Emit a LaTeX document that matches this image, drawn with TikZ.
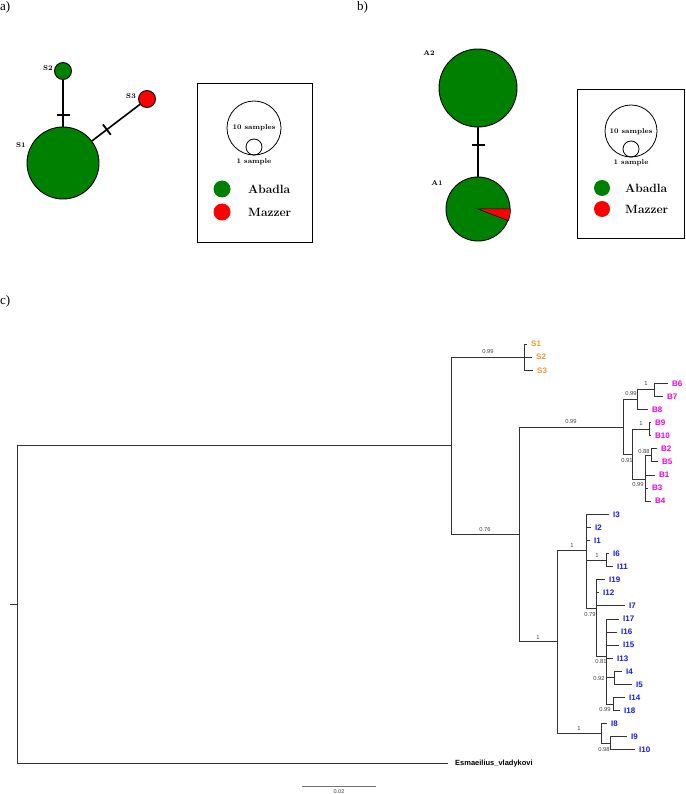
\documentclass[tikz,border=0pt]{standalone}
\usepackage{fontspec}
\newfontfamily\arialf{Liberation Sans}
\newfontfamily\timesf{Liberation Serif}
\definecolor{hapgreen}{RGB}{0,128,0}
\definecolor{hapred}{RGB}{255,0,0}
\definecolor{sorange}{RGB}{247,148,40}
\definecolor{bmag}{RGB}{238,0,230}
\definecolor{iblue}{RGB}{25,25,240}
\def\Y#1{344+13.09*#1}
\begin{document}
\begin{tikzpicture}[x=1pt,y=-1pt,
  panel/.style={font=\timesf\fontsize{13}{13}\selectfont, inner sep=0, anchor=north west},
  hap/.style={circle, draw=black, line width=0.9pt, inner sep=0, fill=hapgreen},
  edge/.style={draw=black, line width=1.6pt},
  tick/.style={sloped, fill=black, draw=none, minimum width=1.8pt, minimum height=13pt, inner sep=0},
  hlab/.style={font=\bfseries\fontsize{7}{7}\selectfont, inner sep=0},
  legbox/.style={draw=black, line width=1pt, inner sep=0},
  legc/.style={circle, draw=black, line width=0.8pt, inner sep=0},
  legdot/.style={circle, inner sep=0, minimum size=17pt},
  legtxt/.style={font=\bfseries\fontsize{12}{12}\selectfont, inner sep=0, anchor=west},
  smalltxt/.style={font=\bfseries\fontsize{7}{7}\selectfont, inner sep=0},
  tree/.style={draw=black!80, line width=0.75pt},
  tipbase/.style={anchor=west, inner sep=0, xshift=4pt, text height=5.7pt, text depth=0pt,
     font=\arialf\bfseries\fontsize{8}{8}\selectfont},
  tipS/.style={tipbase, text=sorange},
  tipB/.style={tipbase, text=bmag},
  tipI/.style={tipbase, text=iblue},
  supp/.style={font=\arialf\fontsize{5.8}{6}\selectfont, text=black!75, inner sep=0}
]
\useasboundingbox (0,0) rectangle (685,794);

% panel labels
\node[panel] (pa) at (0,1) {a)};
\node[panel] (pb) at (357,1) {b)};
\node[panel] (pc) at (0,295) {c)};

% ---------- panel a ----------
\node[hap, minimum size=72pt] (S1) at (63,163) {};
\node[hap, minimum size=17pt] (S2) at (63,71) {};
\node[hap, fill=hapred, minimum size=17pt] (S3) at (147,99) {};
\draw[edge] (S1) -- node[tick, pos=0.25] (tk1) {} (S2);
\draw[edge] (S1) -- node[tick, pos=0.31] (tk2) {} (S3);
\node[hlab] (lhS1) at (21,145) {S1};
\node[hlab] (lhS2) at (48,68) {S2};
\node[hlab] (lhS3) at (131,96) {S3};

\node[legbox, minimum width=115pt, minimum height=158pt] (boxa) at (254.5,163) {};
\node[legc, minimum size=54pt] (bigA) at (254,128) {};
\node[legc, minimum size=16pt] (smA) at (254,147) {};
\node[smalltxt] (tenA) at (254,128) {10 samples};
\node[smalltxt] (oneA) at (254,162) {1 sample};
\node[legdot, fill=hapgreen] (gdA) at (222,189) {};
\node[legdot, fill=hapred] (rdA) at (222,212) {};
\node[legtxt] (abA) at (248,189) {Abadla};
\node[legtxt] (mzA) at (248,212) {Mazzer};

% ---------- panel b ----------
\node[hap, minimum size=78pt] (A2) at (478,88) {};
\node[hap, minimum size=64pt] (A1) at (478,209) {};
\filldraw[fill=hapred, draw=black, line width=0.5pt] (A1.center) -- (A1.0) -- (A1.-5) -- (A1.-10) -- (A1.-15) -- (A1.-21) -- cycle;
\draw[edge] (A2) -- node[tick, pos=0.36] (tk3) {} (A1);
\node[hlab] (lhA2) at (429,53) {A2};
\node[hlab] (lhA1) at (437,183) {A1};

\node[legbox, minimum width=107pt, minimum height=148pt] (boxb) at (630.5,164) {};
\node[legc, minimum size=52pt] (bigB) at (631,131) {};
\node[legc, minimum size=16pt] (smB) at (631,149) {};
\node[smalltxt] (tenB) at (631,132) {10 samples};
\node[smalltxt] (oneB) at (631,163) {1 sample};
\node[legdot, fill=hapgreen, minimum size=16pt] (gdB) at (602,188) {};
\node[legdot, fill=hapred, minimum size=16pt] (rdB) at (602,209) {};
\node[legtxt] (abB) at (625,188) {Abadla};
\node[legtxt] (mzB) at (625,209) {Mazzer};

% ---------- panel c : tree ----------
\coordinate (Rt) at (10,{\Y{19.89}});
\coordinate (R) at (17,{\Y{19.89}});
\coordinate (N451) at (451,{\Y{7.77}});
\coordinate (NS) at (524,{\Y{1}});
\coordinate (N519) at (519,{\Y{14.547}});
\coordinate (NB) at (623,{\Y{6.34}});
\coordinate (NB1) at (637.5,{\Y{4.25}});
\coordinate (NB67) at (654,{\Y{3.5}});
\coordinate (NB2) at (632.5,{\Y{8.4375}});
\coordinate (NB910) at (649,{\Y{6.5}});
\coordinate (NB3) at (645,{\Y{10.375}});
\coordinate (NB25) at (651,{\Y{8.5}});
\coordinate (NI) at (557,{\Y{22.75}});
\coordinate (NI1) at (586,{\Y{15.74}});
\coordinate (NI611) at (606.5,{\Y{16.5}});
\coordinate (NI2) at (596,{\Y{20.21}});
\coordinate (NI3) at (606,{\Y{23.83}});
\coordinate (NI45) at (614.5,{\Y{25.5}});
\coordinate (NI1418) at (613,{\Y{27.5}});
\coordinate (NI8) at (601,{\Y{29.75}});
\coordinate (NI910) at (610,{\Y{30.5}});

\foreach \n/\x/\i/\s in {S1/527/0/tipS, S2/532/1/tipS, S3/533/2/tipS,
  B6/668/3/tipB, B7/663/4/tipB, B8/648/5/tipB, B9/651/6/tipB, B10/651/7/tipB,
  B2/657/8/tipB, B5/658/9/tipB, B1/655/10/tipB, B3/648/11/tipB, B4/651/12/tipB,
  I3/609/13/tipI, I2/591/14/tipI, I1/590/15/tipI, I6/609/16/tipI, I11/613/17/tipI,
  I19/605/18/tipI, I12/599/19/tipI, I7/625/20/tipI, I17/619/21/tipI, I16/617/22/tipI,
  I15/619/23/tipI, I13/613/24/tipI, I4/622/25/tipI, I5/632/26/tipI, I14/625/27/tipI,
  I18/620/28/tipI, I8/607/29/tipI, I9/627/30/tipI, I10/635/31/tipI}{
  \coordinate (t\n) at (\x,{\Y{\i}});
  \node[\s] (l\n) at (t\n) {\n};
}
\coordinate (tEsm) at (448,{\Y{32}});
\node[tipbase, xshift=3pt, font=\arialf\bfseries\fontsize{7.5}{7.5}\selectfont] (lEsm) at (tEsm) {Esmaeilius\_vladykovi};

\draw[tree] (Rt) -- (R);
\foreach \p/\c in {R/N451, R/tEsm, N451/NS, N451/N519, NS/tS1, NS/tS2, NS/tS3,
  N519/NB, N519/NI, NB/NB1, NB/NB2, NB1/NB67, NB1/tB8, NB67/tB6, NB67/tB7,
  NB2/NB910, NB2/NB3, NB910/tB9, NB910/tB10, NB3/NB25, NB3/tB1, NB3/tB3, NB3/tB4,
  NB25/tB2, NB25/tB5, NI/NI1, NI/NI8, NI1/tI3, NI1/tI2, NI1/tI1, NI1/NI611, NI1/NI2,
  NI611/tI6, NI611/tI11, NI2/tI19, NI2/tI12, NI2/tI7, NI2/NI3,
  NI3/tI17, NI3/tI16, NI3/tI15, NI3/tI13, NI3/NI45, NI3/NI1418,
  NI45/tI4, NI45/tI5, NI1418/tI14, NI1418/tI18, NI8/tI8, NI8/NI910,
  NI910/tI9, NI910/tI10}{
  \draw[tree] (\p) |- (\c);
}

% support values
\node[supp] (s1) at (488,352) {0.99};
\node[supp] (s2) at (571,422) {0.99};
\node[supp] (s3) at (485,529) {0.76};
\node[supp] (s4) at (538,637) {1};
\node[supp] (s5) at (572,545) {1};
\node[supp] (s6) at (597,555) {1};
\node[supp] (s7) at (590,614) {0.79};
\node[supp] (s8) at (601,661) {0.81};
\node[supp] (s9) at (599,678) {0.92};
\node[supp] (s10) at (605,709) {0.99};
\node[supp] (s11) at (579,728) {1};
\node[supp] (s12) at (604,749) {0.98};
\node[supp] (s13) at (631,394) {0.99};
\node[supp] (s14) at (646,384) {1};
\node[supp] (s15) at (627,460) {0.91};
\node[supp] (s16) at (641,424) {1};
\node[supp] (s17) at (644,451) {0.88};
\node[supp] (s18) at (638,484) {0.99};

% scale bar
\coordinate (sb1) at (302,786);
\coordinate (sb2) at (376,786);
\draw[draw=black!55, line width=1pt] (sb1) -- (sb2);
\node[supp, font=\arialf\fontsize{5.5}{5.5}\selectfont] (sbl) at (339,791.3) {0.02};
\end{tikzpicture}
\end{document}
